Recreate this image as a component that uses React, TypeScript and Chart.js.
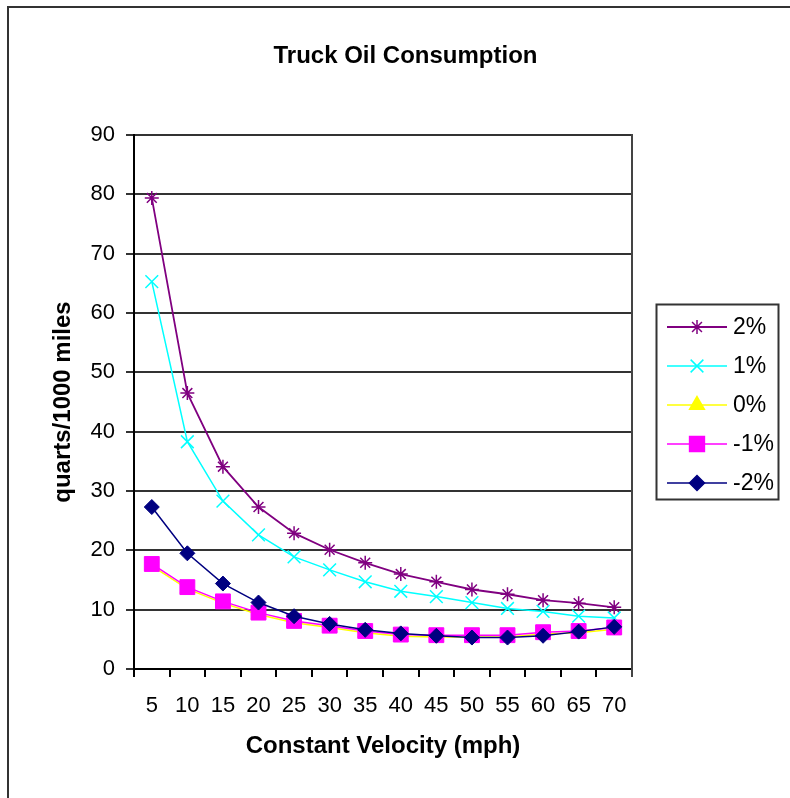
import React, { useEffect, useRef } from 'react';
import { Chart, registerables } from 'chart.js';

Chart.register(...registerables);

// ---- data ----
const velocities = ['5', '10', '15', '20', '25', '30', '35', '40', '45', '50', '55', '60', '65', '70'];
const seriesLabels = ['2%', '1%', '0%', '-1%', '-2%'];
const grade2 = [79.4, 46.5, 34.1, 27.3, 22.9, 20.1, 17.9, 16.0, 14.7, 13.4, 12.6, 11.6, 11.1, 10.4];
const grade1 = [65.3, 38.3, 28.3, 22.6, 18.9, 16.7, 14.7, 13.1, 12.2, 11.2, 10.2, 9.7, 8.9, 8.6];
const grade0 = [17.4, 13.5, 11.1, 9.2, 7.8, 7.0, 6.1, 5.5, 5.4, 5.4, 5.4, 5.9, 6.1, 6.7];
const gradeM1 = [17.7, 13.8, 11.4, 9.5, 8.1, 7.3, 6.4, 5.8, 5.7, 5.7, 5.7, 6.2, 6.4, 7.0];
const gradeM2 = [27.3, 19.5, 14.4, 11.2, 8.9, 7.6, 6.6, 6.0, 5.6, 5.3, 5.3, 5.6, 6.3, 7.1];
const yMin = 0;
const yMax = 90;
const yStep = 10;
const chartTitle = 'Truck Oil Consumption';
const xTitle = 'Constant Velocity (mph)';
const yTitle = 'quarts/1000 miles';

// ---- styles ----
const FONT = "'Liberation Sans', Arial, Helvetica, sans-serif";
const seriesData = [grade2, grade1, grade0, gradeM1, gradeM2];
const seriesColors = ['#800080', '#00FFFF', '#FFFF00', '#FF00FF', '#000080'];
const seriesStyles = ['star', 'crossRot', 'triangle', 'rect', 'rectRot'];
const seriesRadius = [7, 9, 8.5, 10.5, 7.5];
const seriesLineWidth = [1.8, 1.5, 1.5, 1.5, 1.5];

function drawMarker(ctx: CanvasRenderingContext2D, style: string, x: number, y: number, r: number, color: string) {
  ctx.save();
  ctx.fillStyle = color;
  ctx.strokeStyle = color;
  ctx.lineWidth = 1.5;
  ctx.beginPath();
  const d = r * Math.SQRT1_2;
  switch (style) {
    case 'star':
      ctx.moveTo(x, y - r); ctx.lineTo(x, y + r);
      ctx.moveTo(x - r, y); ctx.lineTo(x + r, y);
      ctx.moveTo(x - d, y - d); ctx.lineTo(x + d, y + d);
      ctx.moveTo(x - d, y + d); ctx.lineTo(x + d, y - d);
      ctx.stroke();
      break;
    case 'crossRot':
      ctx.moveTo(x - d, y - d); ctx.lineTo(x + d, y + d);
      ctx.moveTo(x - d, y + d); ctx.lineTo(x + d, y - d);
      ctx.stroke();
      break;
    case 'triangle': {
      const a = (2 * Math.PI) / 3;
      ctx.moveTo(x, y - r);
      ctx.lineTo(x + Math.sin(a) * r, y - Math.cos(a) * r);
      ctx.lineTo(x + Math.sin(2 * a) * r, y - Math.cos(2 * a) * r);
      ctx.closePath();
      ctx.fill();
      ctx.stroke();
      break;
    }
    case 'rect':
      ctx.rect(x - d, y - d, 2 * d, 2 * d);
      ctx.fill();
      ctx.stroke();
      break;
    case 'rectRot':
      ctx.moveTo(x - r, y); ctx.lineTo(x, y - r); ctx.lineTo(x + r, y); ctx.lineTo(x, y + r);
      ctx.closePath();
      ctx.fill();
      ctx.stroke();
      break;
  }
  ctx.restore();
}

const decorPlugin = {
  id: 'decor',
  beforeDraw(chart: any) {
    const ctx = chart.ctx;
    ctx.save();
    ctx.fillStyle = '#ffffff';
    ctx.fillRect(0, 0, chart.width, chart.height);
    ctx.restore();
  },
  afterDraw(chart: any) {
    const ctx: CanvasRenderingContext2D = chart.ctx;
    const area = chart.chartArea;
    ctx.save();
    // outer frame
    ctx.strokeStyle = '#333';
    ctx.lineWidth = 2;
    ctx.strokeRect(8, 7, 900, 900);
    // plot area right edge
    ctx.strokeStyle = '#444';
    ctx.beginPath();
    ctx.moveTo(area.right, area.top - 1);
    ctx.lineTo(area.right, area.bottom + 8);
    ctx.stroke();
    // title
    ctx.fillStyle = '#000';
    ctx.font = `bold 24px ${FONT}`;
    ctx.textAlign = 'center';
    ctx.textBaseline = 'alphabetic';
    ctx.fillText(chartTitle, 405.5, 63);
    // legend
    const lx = 656.5, ly = 304.5, lw = 122, lh = 195;
    ctx.strokeStyle = '#333';
    ctx.lineWidth = 2;
    ctx.strokeRect(lx, ly, lw, lh);
    ctx.font = `23px ${FONT}`;
    ctx.textAlign = 'left';
    ctx.textBaseline = 'middle';
    seriesLabels.forEach((label, i) => {
      const y = 327 + i * 39;
      ctx.strokeStyle = seriesColors[i];
      ctx.lineWidth = seriesLineWidth[i];
      ctx.beginPath();
      ctx.moveTo(667, y);
      ctx.lineTo(727, y);
      ctx.stroke();
      drawMarker(ctx, seriesStyles[i], 697, y, seriesRadius[i], seriesColors[i]);
      ctx.fillStyle = '#000';
      ctx.fillText(label, 733, y + 1);
    });
    ctx.restore();
  },
};

export default function App() {
  const canvasRef = useRef<HTMLCanvasElement | null>(null);

  useEffect(() => {
    const canvas = canvasRef.current;
    if (!canvas) return;
    const datasets = seriesLabels.map((label, i) => ({
      label,
      data: seriesData[i],
      borderColor: seriesColors[i],
      backgroundColor: seriesColors[i],
      pointStyle: seriesStyles[i] as any,
      pointRadius: seriesRadius[i],
      pointBorderWidth: i < 2 ? 1.5 : 1,
      borderWidth: seriesLineWidth[i],
      tension: 0,
      fill: false,
      order: seriesLabels.length - i,
    }));
    const chart = new Chart(canvas, {
      type: 'line',
      data: { labels: velocities, datasets },
      options: {
        responsive: false,
        animation: false,
        layout: { padding: { left: 0, right: 188, top: 135, bottom: 0 } },
        plugins: {
          legend: { display: false },
          tooltip: { enabled: false },
          title: { display: false },
        },
        scales: {
          x: {
            type: 'category',
            offset: true,
            grid: {
              display: true,
              drawOnChartArea: false,
              drawTicks: true,
              tickLength: 8,
              offset: true,
              color: '#000',
              lineWidth: 2,
            },
            border: { display: true, color: '#000', width: 2 },
            ticks: {
              font: { family: FONT, size: 22 },
              color: '#000',
              padding: 16,
              maxRotation: 0,
              autoSkip: false,
            },
            title: {
              display: true,
              text: xTitle,
              color: '#000',
              font: { family: FONT, size: 24, weight: 'bold' },
              padding: { top: 0, bottom: 59 },
            },
            afterFit: (s: any) => { s.height = 151; },
          },
          y: {
            min: yMin,
            max: yMax,
            ticks: {
              stepSize: yStep,
              font: { family: FONT, size: 22 },
              color: '#000',
              padding: 11,
            },
            grid: { color: '#333', lineWidth: 2, tickLength: 8, drawTicks: true },
            border: { display: true, color: '#000', width: 2 },
            title: {
              display: true,
              text: yTitle,
              color: '#000',
              font: { family: FONT, size: 24, weight: 'bold' },
              padding: { top: 48.6, bottom: 0 },
            },
            afterFit: (s: any) => { s.width = 134; },
          },
        },
      },
      plugins: [decorPlugin],
    } as any);
    return () => chart.destroy();
  }, []);

  return (
    <div style={{ position: 'fixed', left: 0, top: 0, width: 790, height: 798, overflow: 'hidden', background: '#fff' }}>
      <canvas ref={canvasRef} width={820} height={820} style={{ display: 'block', position: 'absolute', left: 0, top: 0 }} />
    </div>
  );
}
